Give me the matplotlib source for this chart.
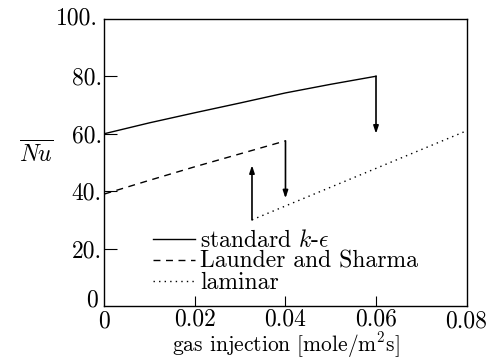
import matplotlib.pyplot as plt

plt.rcParams['font.family'] = ['cmr10', 'DejaVu Serif']
plt.rcParams['mathtext.fontset'] = 'cm'
plt.rcParams['axes.unicode_minus'] = False

# standard k-epsilon
ke_x = [0.0, 0.01, 0.02, 0.03, 0.04, 0.05, 0.06]
ke_y = [60.0, 63.8, 67.3, 70.7, 74.2, 77.2, 80.0]
# Launder and Sharma
ls_x = [0.0, 0.01, 0.02, 0.03, 0.04]
ls_y = [39.0, 43.8, 48.5, 53.0, 57.5]
# laminar
lam_x = [0.0326, 0.08]
lam_y = [30.0, 61.0]

# transition arrows (x, from, to)
arr_ke = (0.06, 80.0, 60.0)
arr_ls = (0.04, 57.5, 37.5)
arr_lam = (0.0326, 30.0, 49.0)

xticks = [0, 0.02, 0.04, 0.06, 0.08]
xlabels = ['0', '0.02', '0.04', '0.06', '0.08']
yticks = [20, 40, 60, 80, 100]
ylabels = ['20.', '40.', '60.', '80.', '100.']

fs = 17

fig = plt.figure(figsize=(4.88, 3.59), dpi=100)
ax = fig.add_axes([0.214, 0.1476, 0.742, 0.8])

ax.plot(ke_x, ke_y, color='black', lw=1.0, label='standard $k$-$\\epsilon$')
ax.plot(ls_x, ls_y, color='black', lw=1.0, ls=(0, (5, 4)), label='Launder and Sharma')
ax.plot(lam_x, lam_y, color='black', lw=1.0, ls=(0, (1, 3)), label='laminar')

for x, y0, y1 in [arr_ke, arr_ls, arr_lam]:
    ax.annotate('', xy=(x, y1), xytext=(x, y0),
                arrowprops=dict(arrowstyle='-|>,head_length=0.45,head_width=0.15',
                                color='black', lw=1.2, shrinkA=0, shrinkB=0))

ax.set_xlim(0, 0.08)
ax.set_ylim(0, 100)
ax.set_xticks(xticks[1:-1])
ax.set_xticklabels(xlabels[1:-1])
ax.set_yticks(yticks[:-1])
ax.set_yticklabels(ylabels[:-1])
ax.tick_params(direction='in', labelsize=fs, colors='black')
ax.tick_params(axis='y', length=9, pad=2)
ax.tick_params(axis='x', length=7, pad=2)

# end labels placed at the axis corners
ax.text(-0.0015, 100, '100.', ha='right', va='center', fontsize=fs)
ax.text(-0.0015, 1.8, '0', ha='right', va='center', fontsize=fs)
ax.text(0.0, -1.5, '0', ha='center', va='top', fontsize=fs)
ax.text(0.08, -1.5, '0.08', ha='center', va='top', fontsize=fs)

for s in ax.spines.values():
    s.set_linewidth(1.0)

ax.set_xlabel('gas injection [mole/m$^2$s]', fontsize=15.5, labelpad=-0.5)
fig.text(0.074, 0.57, '$\\overline{Nu}$', fontsize=fs, ha='center', va='center')

ax.legend(loc='upper left', bbox_to_anchor=(0.134, 0.265), frameon=False,
          fontsize=fs, handlelength=1.8, handletextpad=0.2, labelspacing=-0.05,
          borderpad=0, borderaxespad=0)

fig.savefig('out.png', dpi=100)
